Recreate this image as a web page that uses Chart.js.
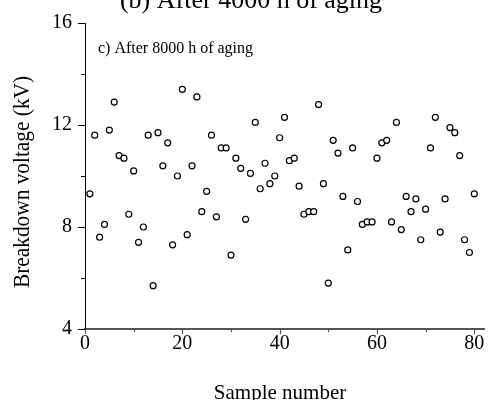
<!DOCTYPE html>
<html>
<head>
<meta charset="utf-8">
<script src="https://cdn.jsdelivr.net/npm/chart.js@4.4.1/dist/chart.umd.min.js"></script>
<style>
  html, body { margin: 0; padding: 0; background: #fff; }
  #wrap { width: 492px; height: 400px; position: relative; }
  canvas { display: block; }
</style>
</head>
<body>
<div id="wrap"><canvas id="c" width="492" height="400"></canvas></div>
<script>
// ---- Data ----
const sampleNumbers = [
  1,2,3,4,5,6,7,8,9,10,11,12,13,14,15,16,17,18,19,20,
  21,22,23,24,25,26,27,28,29,30,31,32,33,34,35,36,37,38,39,40,
  41,42,43,44,45,46,47,48,49,50,51,52,53,54,55,56,57,58,59,60,
  61,62,63,64,65,66,67,68,69,70,71,72,73,74,75,76,77,78,79,80
];
const breakdownVoltage = [
  9.3,11.6,7.6,8.1,11.8,12.9,10.8,10.7,8.5,10.2,7.4,8.0,11.6,5.7,11.7,10.4,11.3,7.3,10.0,13.4,
  7.7,10.4,13.1,8.6,9.4,11.6,8.4,11.1,11.1,6.9,10.7,10.3,8.3,10.1,12.1,9.5,10.5,9.7,10.0,11.5,
  12.3,10.6,10.7,9.6,8.5,8.6,8.6,12.8,9.7,5.8,11.4,10.9,9.2,7.1,11.1,9.0,8.1,8.2,8.2,10.7,
  11.3,11.4,8.2,12.1,7.9,9.2,8.6,9.1,7.5,8.7,11.1,12.3,7.8,9.1,11.9,11.7,10.8,7.5,7.0,9.3
];
const xMajorTicks = [0, 20, 40, 60, 80];
const xMinorTicks = [10, 30, 50, 70];
const yMajorTicks = [4, 8, 12, 16];
const yMinorTicks = [6, 10, 14];
const titleText = "(b) After 4000 h of aging";
const panelText = "c) After 8000 h of aging";
const xTitle = "Sample number";
const yTitle = "Breakdown voltage (kV)";

const points = sampleNumbers.map((x, i) => ({ x: x, y: breakdownVoltage[i] }));
const SERIF = "'Liberation Serif', 'Times New Roman', serif";

const decorPlugin = {
  id: 'decor',
  afterDraw(chart) {
    const ctx = chart.ctx;
    const xs = chart.scales.x, ys = chart.scales.y;
    const left = chart.chartArea.left, bottom = chart.chartArea.bottom;
    ctx.save();
    // y ticks
    ctx.strokeStyle = '#000';
    ctx.lineWidth = 1;
    ctx.beginPath();
    yMajorTicks.forEach(v => {
      const p = Math.round(ys.getPixelForValue(v)) + 0.5;
      ctx.moveTo(left - 7, p); ctx.lineTo(left, p);
    });
    yMinorTicks.forEach(v => {
      const p = Math.round(ys.getPixelForValue(v)) + 0.5;
      ctx.moveTo(left - 4, p); ctx.lineTo(left, p);
    });
    ctx.stroke();
    // x ticks
    ctx.strokeStyle = '#555';
    ctx.lineWidth = 1.2;
    ctx.beginPath();
    xMajorTicks.forEach(v => {
      const p = Math.round(xs.getPixelForValue(v)) + 0.5;
      ctx.moveTo(p, bottom); ctx.lineTo(p, bottom + 5);
    });
    xMinorTicks.forEach(v => {
      const p = Math.round(xs.getPixelForValue(v)) + 0.5;
      ctx.moveTo(p, bottom); ctx.lineTo(p, bottom + 3);
    });
    ctx.stroke();

    ctx.fillStyle = '#000';
    // cut-off title
    ctx.font = '26px ' + SERIF;
    ctx.textAlign = 'center';
    ctx.textBaseline = 'alphabetic';
    ctx.fillText(titleText, 251, 8);
    // panel label
    ctx.font = '16px ' + SERIF;
    ctx.textAlign = 'left';
    ctx.fillText(panelText, 98, 53);
    // x title
    ctx.font = '21px ' + SERIF;
    ctx.textAlign = 'center';
    ctx.fillText(xTitle, 280, 399);
    // y title (slightly condensed as in the reference)
    ctx.translate(29, 182);
    ctx.rotate(-Math.PI / 2);
    ctx.scale(0.97, 1.05);
    ctx.font = '22px ' + SERIF;
    ctx.textAlign = 'center';
    ctx.fillText(yTitle, 0, 0);
    ctx.restore();
  }
};

new Chart(document.getElementById('c'), {
  type: 'scatter',
  data: {
    datasets: [{
      data: points,
      pointStyle: 'circle',
      pointRadius: 3,
      pointHoverRadius: 3,
      borderWidth: 1.2,
      pointBorderColor: '#000',
      pointBackgroundColor: '#fff',
      showLine: false
    }]
  },
  options: {
    responsive: false,
    devicePixelRatio: 1,
    animation: false,
    events: [],
    layout: { padding: { top: 23, right: 8, left: 0, bottom: 0 } },
    plugins: { legend: { display: false }, tooltip: { enabled: false }, title: { display: false } },
    scales: {
      x: {
        type: 'linear',
        position: 'bottom',
        min: 0, max: 82,
        afterBuildTicks: s => { s.ticks = xMajorTicks.map(v => ({ value: v })); },
        afterFit: s => { s.height = 71; },
        grid: { display: false },
        border: { display: true, color: '#555', width: 2 },
        ticks: {
          color: '#000',
          font: { family: SERIF, size: 20 },
          padding: -5,
          maxRotation: 0,
          autoSkip: false
        }
      },
      y: {
        type: 'linear',
        position: 'left',
        min: 4, max: 16,
        afterBuildTicks: s => { s.ticks = yMajorTicks.map(v => ({ value: v })); },
        afterFit: s => { s.width = 85; },
        grid: { display: false },
        border: { display: true, color: '#000', width: 1 },
        ticks: {
          color: '#000',
          font: { family: SERIF, size: 20 },
          padding: 5,
          autoSkip: false
        }
      }
    }
  },
  plugins: [decorPlugin]
});
</script>
</body>
</html>
